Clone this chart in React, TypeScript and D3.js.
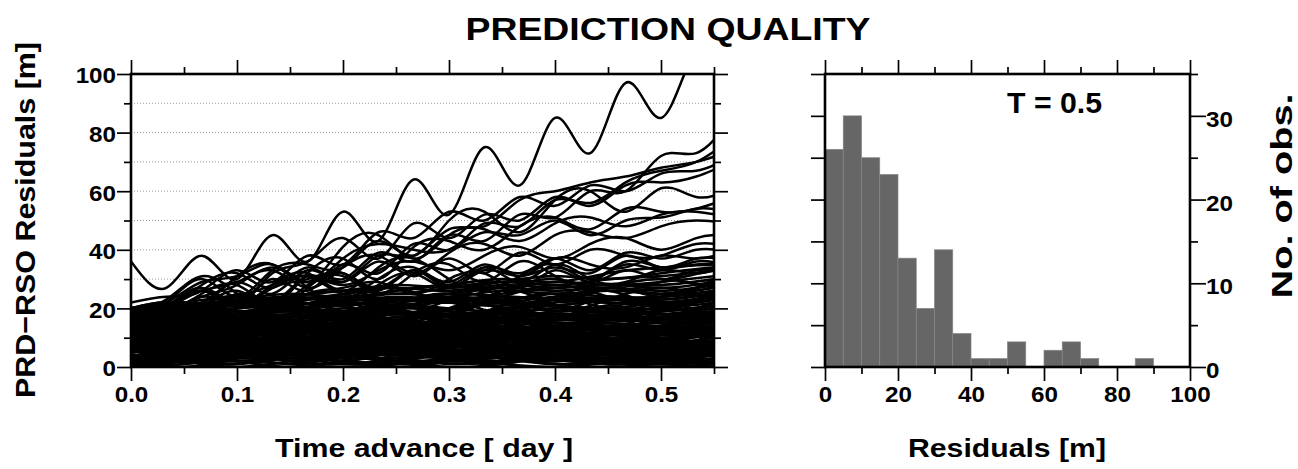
import React, { useEffect, useRef } from 'react';
import * as d3 from 'd3';

// time grids (days)
const fineDays = [0, 0.0333, 0.0667, 0.1, 0.1333, 0.1667, 0.2, 0.2333, 0.2667, 0.3, 0.3333, 0.3667, 0.4, 0.4333, 0.4667, 0.5, 0.5333, 0.5667];
const coarseDays = [0, 0.05, 0.1, 0.15, 0.2, 0.25, 0.3, 0.35, 0.4, 0.45, 0.5, 0.55];

// residual curves that stand out above the dense band (sampled on fineDays)
const upperResiduals: number[][] = [
  [36, 27, 38, 30, 45, 36, 53, 43, 64, 52, 75, 62, 85, 73, 97, 85, 108, 98],
  [20, 22, 22, 29, 25, 33, 30, 39, 36, 45, 43, 52, 51, 60, 60, 72, 73, 85],
  [18, 20, 26, 22, 30, 26, 35, 32, 42, 40, 49, 48, 57, 56, 63, 67, 70, 78],
  [15, 19, 17, 25, 22, 31, 29, 38, 38, 47, 48, 57, 60, 63, 65, 68, 70, 74],
  [22, 24, 26, 33, 29, 38, 35, 46, 44, 53, 50, 58, 55, 62, 60, 66, 67, 72],
  [17, 20, 27, 21, 32, 36, 44, 37, 49, 44, 52, 50, 58, 55, 62, 63, 65, 70],
  [20, 22, 22, 31, 35, 29, 41, 45, 38, 50, 53, 46, 57, 60, 53, 61, 58, 61],
  [14, 18, 25, 28, 22, 32, 37, 30, 41, 43, 40, 48, 51, 47, 54, 53, 54, 58],
  [19, 22, 30, 24, 33, 35, 34, 43, 37, 45, 47, 43, 49, 51, 48, 52, 53, 51],
  [20, 22, 29, 31, 35, 29, 37, 42, 40, 40, 46, 45, 50, 45, 50, 51, 54, 53],
  [16, 20, 26, 29, 33, 27, 34, 38, 32, 39, 42, 38, 45, 46, 44, 48, 50, 49],
  [12, 17, 24, 22, 27, 31, 28, 33, 36, 33, 38, 41, 37, 42, 44, 40, 44, 45],
  [18, 21, 28, 32, 27, 34, 29, 36, 31, 37, 32, 39, 35, 40, 38, 38, 42, 41],
  [20, 23, 31, 25, 19, 27, 32, 26, 33, 27, 34, 32, 37, 33, 39, 37, 40, 39],
  [10, 15, 20, 24, 28, 31, 25, 30, 34, 29, 35, 31, 37, 35, 34, 38, 37, 40],
  [16, 19, 24, 28, 34, 27, 22, 28, 32, 27, 33, 31, 34, 32, 38, 34, 37, 36],
  [20, 21, 27, 22, 28, 32, 26, 34, 37, 30, 26, 31, 35, 30, 36, 34, 35, 35],
  [13, 18, 21, 26, 21, 28, 31, 25, 32, 35, 29, 36, 31, 29, 35, 33, 36, 34],
  [19, 20, 26, 21, 27, 30, 32, 27, 33, 28, 34, 29, 35, 30, 29, 33, 32, 35],
  [11, 16, 21, 24, 19, 25, 27, 29, 25, 30, 32, 27, 33, 29, 33, 30, 33, 32],
];

// dense band of residual curves (sampled on coarseDays)
const denseResiduals: number[][] = [
  [2, 4, 3, 5, 4, 2, 3, 5, 3, 2, 1, 3],
  [8, 6, 4, 3, 5, 6, 4, 2, 3, 4, 2, 1],
  [14, 12, 9, 7, 5, 6, 8, 7, 5, 4, 3, 5],
  [5, 7, 9, 8, 6, 7, 9, 8, 6, 5, 4, 6],
  [1, 2, 1, 3, 2, 1, 2, 3, 1, 2, 1, 2],
  [11, 9, 10, 8, 6, 4, 5, 3, 4, 3, 2, 4],
  [17, 15, 13, 10, 11, 9, 7, 6, 5, 4, 3, 2],
  [4, 3, 5, 7, 8, 6, 5, 6, 7, 5, 4, 6],
  [0, 1, 2, 1, 0, 1, 2, 1, 0, 1, 0, 1],
  [7, 5, 3, 4, 6, 5, 3, 2, 3, 2, 1, 2],
  [19, 16, 14, 11, 9, 8, 6, 5, 4, 3, 2, 3],
  [3, 5, 6, 4, 3, 5, 6, 4, 5, 4, 3, 4],
  [12, 13, 11, 9, 10, 8, 7, 8, 6, 5, 4, 5],
  [6, 4, 2, 3, 1, 2, 4, 3, 2, 3, 2, 1],
  [9, 8, 6, 7, 5, 4, 3, 4, 5, 4, 3, 4],
  [1, 3, 2, 0, 2, 3, 1, 2, 3, 2, 1, 0],
  [15, 13, 11, 12, 10, 9, 8, 6, 5, 5, 4, 6],
  [10, 11, 8, 6, 4, 5, 3, 2, 4, 3, 3, 2],
  [3, 4, 6, 5, 7, 6, 5, 7, 6, 5, 5, 7],
  [16, 14, 12, 13, 11, 9, 10, 8, 7, 6, 6, 8],
  [9, 10, 8, 9, 7, 8, 9, 7, 8, 7, 7, 9],
  [2, 3, 5, 4, 6, 8, 7, 9, 8, 9, 8, 10],
  [13, 14, 12, 10, 11, 12, 10, 9, 11, 10, 9, 11],
  [6, 5, 7, 6, 4, 5, 7, 6, 5, 6, 6, 5],
  [18, 17, 15, 13, 14, 12, 11, 9, 10, 8, 7, 9],
  [0, 2, 3, 5, 4, 6, 5, 7, 6, 8, 8, 7],
  [11, 12, 10, 8, 9, 11, 10, 8, 9, 10, 9, 8],
  [5, 7, 6, 8, 6, 5, 7, 5, 4, 6, 5, 7],
  [14, 13, 11, 12, 10, 9, 8, 9, 7, 8, 6, 8],
  [8, 7, 9, 7, 8, 10, 8, 7, 9, 8, 7, 9],
  [20, 18, 16, 14, 12, 13, 11, 10, 9, 9, 8, 10],
  [4, 6, 8, 7, 9, 8, 10, 9, 11, 10, 9, 11],
  [12, 10, 8, 9, 7, 6, 8, 6, 5, 7, 6, 8],
  [7, 9, 11, 10, 8, 9, 7, 8, 6, 7, 7, 6],
  [17, 15, 16, 14, 12, 10, 11, 9, 10, 9, 8, 7],
  [1, 2, 4, 3, 5, 4, 6, 5, 7, 6, 9, 8],
  [10, 8, 6, 7, 5, 7, 6, 4, 5, 6, 5, 6],
  [15, 16, 14, 15, 13, 11, 12, 10, 9, 8, 7, 9],
  [5, 7, 9, 8, 10, 9, 11, 10, 12, 11, 10, 12],
  [18, 17, 15, 16, 14, 13, 14, 12, 13, 12, 11, 13],
  [9, 11, 10, 12, 11, 13, 12, 11, 13, 12, 12, 14],
  [13, 12, 14, 12, 13, 15, 14, 12, 14, 13, 13, 15],
  [2, 4, 6, 8, 7, 9, 11, 10, 12, 13, 14, 13],
  [16, 15, 13, 14, 12, 13, 11, 12, 10, 11, 11, 12],
  [11, 13, 12, 14, 13, 11, 13, 12, 14, 13, 12, 11],
  [7, 8, 10, 9, 11, 12, 10, 12, 11, 12, 13, 14],
  [19, 18, 17, 15, 16, 14, 15, 13, 14, 15, 14, 16],
  [4, 5, 7, 6, 8, 10, 9, 11, 10, 11, 10, 12],
  [14, 15, 13, 12, 14, 12, 11, 13, 12, 10, 11, 13],
  [12, 14, 13, 15, 14, 13, 15, 14, 12, 13, 12, 14],
  [8, 10, 12, 11, 13, 12, 14, 13, 12, 14, 13, 15],
  [17, 16, 14, 15, 13, 15, 14, 16, 15, 14, 14, 16],
  [6, 8, 7, 9, 11, 10, 12, 11, 13, 12, 12, 13],
  [15, 14, 16, 15, 13, 14, 12, 14, 13, 14, 13, 15],
  [3, 5, 7, 9, 8, 10, 9, 11, 10, 12, 11, 12],
  [10, 12, 11, 13, 12, 14, 13, 15, 14, 13, 14, 16],
  [6, 8, 10, 12, 11, 13, 15, 14, 16, 15, 15, 17],
  [14, 15, 14, 16, 15, 17, 16, 15, 17, 16, 16, 18],
  [19, 20, 18, 19, 17, 18, 19, 17, 18, 17, 17, 19],
  [10, 12, 14, 13, 15, 14, 16, 18, 17, 18, 18, 19],
  [17, 18, 19, 17, 18, 20, 19, 18, 20, 19, 19, 21],
  [2, 5, 8, 10, 9, 12, 13, 15, 14, 16, 16, 17],
  [12, 14, 13, 15, 17, 16, 15, 17, 16, 17, 17, 18],
  [20, 19, 17, 18, 16, 17, 18, 16, 17, 18, 18, 17],
  [8, 10, 12, 14, 13, 15, 14, 16, 18, 17, 19, 20],
  [16, 17, 15, 17, 18, 16, 18, 17, 19, 18, 15, 17],
  [13, 15, 17, 16, 14, 16, 18, 17, 16, 17, 16, 18],
  [5, 7, 9, 11, 13, 12, 14, 16, 15, 16, 17, 18],
  [18, 19, 21, 20, 19, 21, 20, 19, 20, 19, 18, 20],
  [11, 13, 15, 17, 16, 18, 17, 19, 18, 19, 19, 21],
  [15, 17, 16, 18, 20, 19, 18, 17, 18, 17, 17, 19],
  [9, 11, 13, 12, 14, 16, 15, 17, 16, 17, 16, 17],
  [14, 16, 18, 17, 19, 21, 20, 22, 21, 20, 20, 22],
  [19, 21, 20, 22, 21, 23, 22, 21, 23, 22, 21, 23],
  [10, 13, 15, 17, 19, 18, 20, 22, 21, 23, 22, 24],
  [17, 19, 21, 20, 22, 21, 23, 22, 24, 23, 23, 25],
  [20, 21, 22, 21, 23, 22, 24, 23, 25, 24, 24, 26],
  [12, 15, 17, 19, 18, 20, 22, 21, 23, 22, 21, 23],
  [18, 20, 19, 21, 22, 21, 20, 22, 21, 23, 22, 24],
  [16, 18, 20, 22, 21, 23, 22, 24, 23, 24, 23, 25],
  [7, 10, 13, 15, 17, 19, 18, 20, 22, 23, 24, 25],
  [20, 22, 21, 23, 24, 23, 25, 24, 23, 22, 22, 24],
  [18, 20, 22, 24, 23, 25, 24, 26, 25, 26, 25, 27],
  [15, 18, 20, 22, 24, 23, 25, 27, 26, 27, 26, 28],
  [20, 22, 24, 23, 25, 27, 26, 28, 27, 28, 27, 29],
  [12, 15, 18, 20, 22, 24, 23, 25, 27, 28, 28, 30],
  [19, 21, 23, 25, 24, 26, 28, 27, 29, 28, 29, 31],
  [17, 20, 22, 24, 26, 25, 27, 29, 28, 30, 31, 33],
  [20, 22, 21, 24, 26, 28, 27, 29, 31, 30, 32, 34],
  [16, 19, 22, 24, 23, 26, 28, 30, 29, 32, 34, 35],
  [3, 7, 2, 6, 9, 4, 8, 3, 7, 10, 5, 9],
  [9, 4, 8, 12, 6, 11, 7, 13, 8, 12, 9, 14],
  [15, 10, 14, 9, 13, 8, 12, 16, 11, 15, 10, 14],
  [6, 11, 5, 10, 14, 9, 13, 7, 12, 6, 11, 16],
  [12, 17, 11, 16, 10, 15, 19, 13, 18, 14, 19, 23],
  [18, 13, 17, 12, 16, 20, 15, 19, 14, 18, 22, 17],
  [1, 5, 9, 4, 8, 3, 7, 11, 6, 10, 4, 8],
  [20, 16, 19, 15, 18, 22, 17, 21, 25, 20, 24, 28],
  [8, 13, 7, 12, 16, 11, 15, 10, 14, 9, 13, 18],
  [4, 0, 4, 8, 3, 7, 2, 6, 10, 5, 9, 13],
  [13, 9, 12, 16, 11, 14, 18, 12, 16, 20, 15, 19],
  [17, 21, 16, 20, 15, 19, 23, 18, 22, 26, 21, 25],
  [10, 6, 10, 5, 9, 13, 8, 12, 7, 11, 16, 12],
  [2, 6, 10, 14, 9, 13, 17, 12, 16, 20, 15, 19],
  [16, 12, 8, 12, 7, 11, 6, 10, 14, 9, 13, 8],
  [7, 3, 7, 11, 15, 10, 14, 18, 13, 17, 21, 16],
  [19, 15, 11, 15, 19, 14, 18, 22, 17, 21, 18, 22],
  [11, 15, 19, 14, 18, 22, 18, 23, 19, 24, 20, 26],
  [5, 9, 4, 8, 12, 7, 11, 15, 10, 14, 9, 13],
  [14, 18, 13, 17, 21, 16, 20, 24, 19, 23, 27, 23],
  [0, 3, 6, 2, 5, 9, 4, 8, 12, 7, 3, 6],
  [9, 13, 17, 21, 17, 21, 25, 20, 24, 28, 24, 30],
  [18, 14, 10, 6, 10, 14, 9, 13, 8, 12, 7, 11],
  [3, 8, 13, 9, 14, 19, 15, 20, 16, 21, 17, 22],
  [12, 8, 4, 8, 12, 16, 12, 17, 21, 16, 20, 24],
  [20, 17, 14, 18, 22, 18, 23, 27, 23, 27, 30, 27],
  [6, 2, 5, 9, 5, 2, 6, 10, 5, 1, 4, 8],
  [15, 19, 23, 19, 23, 27, 22, 26, 30, 26, 29, 33],
  [10, 14, 18, 22, 19, 16, 20, 24, 28, 24, 21, 25],
  [17, 13, 16, 20, 24, 20, 16, 19, 23, 27, 25, 29],
  [0, 2, 4, 2, 1, 3, 5, 3, 1, 2, 4, 2],
  [4, 2, 0, 2, 4, 2, 0, 1, 3, 1, 2, 4],
  [2, 0, 3, 6, 3, 0, 2, 4, 2, 5, 3, 1],
  [6, 3, 1, 4, 2, 5, 3, 1, 4, 1, 3, 2],
  [3, 6, 4, 1, 4, 7, 4, 2, 5, 3, 6, 4],
  [1, 4, 7, 5, 2, 1, 3, 6, 3, 1, 2, 5],
];

// histogram at T = 0.5 day
const binStarts = [0, 5, 10, 15, 20, 25, 30, 35, 40, 45, 50, 55, 60, 65, 70, 75, 80, 85, 90, 95];
const binCounts = [26, 30, 25, 23, 13, 7, 14, 4, 1, 1, 3, 0, 2, 3, 1, 0, 0, 1, 0, 0];
const binWidth = 5;

// ticks
const gridValues = [10, 20, 30, 40, 50, 60, 70, 80, 90];
const resMajor = [0, 20, 40, 60, 80, 100];
const resMinor = [10, 30, 50, 70, 90];
const dayMajor = [0, 0.1, 0.2, 0.3, 0.4, 0.5];
const dayMinor = [0.05, 0.15, 0.25, 0.35, 0.45, 0.55];
const histXMajor = [0, 20, 40, 60, 80, 100];
const histXMinor = [10, 30, 50, 70, 90];
const countMajor = [0, 10, 20, 30];
const countMinor = [5, 15, 25, 35];
const countAll = [0, 5, 10, 15, 20, 25, 30, 35];

const W = 1298;
const H = 469;
const FONT = '"Liberation Sans", Arial, Helvetica, sans-serif';
const STRETCH = 1.1;

const App: React.FC = () => {
  const svgRef = useRef<SVGSVGElement>(null);

  useEffect(() => {
    drawChart();
  }, []);

  const drawChart = () => {
    const svg = d3.select(svgRef.current!);
    svg.selectAll('*').remove();

    const L = { x0: 131, x1: 714, y0: 74, y1: 367 };
    const R = { x0: 825, x1: 1190, y0: 74, y1: 367 };

    const x = d3.scaleLinear().domain([0, 0.55]).range([L.x0, L.x1]);
    const y = d3.scaleLinear().domain([0, 100]).range([L.y1, L.y0]);
    const xh = d3.scaleLinear().domain([0, 100]).range([R.x0, R.x1]);
    const yh = d3.scaleLinear().domain([0, 35]).range([R.y1, R.y0]);

    svg.append('defs')
      .append('clipPath')
      .attr('id', 'plotClip')
      .append('rect')
      .attr('x', L.x0)
      .attr('y', L.y0)
      .attr('width', L.x1 - L.x0)
      .attr('height', L.y1 - L.y0);

    // dotted grid
    svg.append('g')
      .selectAll('line')
      .data(gridValues)
      .join('line')
      .attr('x1', L.x0)
      .attr('x2', L.x1)
      .attr('y1', (d) => y(d))
      .attr('y2', (d) => y(d))
      .attr('stroke', '#9a9a9a')
      .attr('stroke-width', 1)
      .attr('stroke-dasharray', '1 2');

    const lineFine = d3.line<number>()
      .x((_, i) => x(fineDays[i]))
      .y((d) => y(d))
      .curve(d3.curveNatural);
    const lineCoarse = d3.line<number>()
      .x((_, i) => x(coarseDays[i]))
      .y((d) => y(d))
      .curve(d3.curveNatural);

    const curves = svg.append('g').attr('clip-path', 'url(#plotClip)');
    curves.selectAll('path.dense')
      .data(denseResiduals)
      .join('path')
      .attr('class', 'dense')
      .attr('d', (d) => lineCoarse(d))
      .attr('fill', 'none')
      .attr('stroke', '#000')
      .attr('stroke-width', 2.6);
    curves.selectAll('path.upper')
      .data(upperResiduals)
      .join('path')
      .attr('class', 'upper')
      .attr('d', (d) => lineFine(d))
      .attr('fill', 'none')
      .attr('stroke', '#000')
      .attr('stroke-width', 2.5);

    // histogram bars
    svg.append('g')
      .selectAll('rect')
      .data(binCounts.map((c, i) => ({ start: binStarts[i], count: c })).filter((d) => d.count > 0))
      .join('rect')
      .attr('x', (d) => xh(d.start))
      .attr('width', (d) => xh(d.start + binWidth) - xh(d.start))
      .attr('y', (d) => yh(d.count))
      .attr('height', (d) => yh(0) - yh(d.count))
      .attr('fill', '#666666')
      .attr('stroke', '#858585')
      .attr('stroke-width', 0.7);

    const style = (g: d3.Selection<SVGGElement, unknown, null, undefined>) => {
      g.select('.domain').remove();
      g.selectAll('line').attr('stroke', '#000').attr('stroke-width', 1.7);
      g.selectAll('text')
        .attr('font-family', FONT)
        .attr('font-size', 22)
        .attr('font-weight', 'bold')
        .attr('fill', '#000');
    };
    const noLabel = () => '';

    // left panel axes
    svg.append('g').attr('transform', `translate(${L.x0},0)`)
      .call(d3.axisLeft(y).tickValues(resMinor).tickSize(7).tickFormat(noLabel)).call(style);
    const yl = svg.append('g').attr('transform', `translate(${L.x0},0)`)
      .call(d3.axisLeft(y).tickValues(resMajor).tickSize(14).tickFormat(d3.format('d'))).call(style);
    yl.selectAll('text').attr('x', -15 / STRETCH).attr('dy', '0.4em').attr('transform', `scale(${STRETCH},1)`);
    svg.append('g').attr('transform', `translate(${L.x1},0)`)
      .call(d3.axisRight(y).tickValues(resMinor).tickSize(7).tickFormat(noLabel)).call(style);
    svg.append('g').attr('transform', `translate(${L.x1},0)`)
      .call(d3.axisRight(y).tickValues(resMajor).tickSize(14).tickFormat(noLabel)).call(style);
    svg.append('g').attr('transform', `translate(0,${L.y0})`)
      .call(d3.axisTop(x).tickValues(dayMinor).tickSize(7).tickFormat(noLabel)).call(style);
    svg.append('g').attr('transform', `translate(0,${L.y0})`)
      .call(d3.axisTop(x).tickValues(dayMajor).tickSize(14).tickFormat(noLabel)).call(style);
    svg.append('g').attr('transform', `translate(0,${L.y1})`)
      .call(d3.axisBottom(x).tickValues(dayMinor).tickSize(7).tickFormat(noLabel)).call(style);
    const xl = svg.append('g').attr('transform', `translate(0,${L.y1})`)
      .call(d3.axisBottom(x).tickValues(dayMajor).tickSize(14).tickFormat(d3.format('.1f'))).call(style);
    xl.selectAll('text').attr('y', 19.5).attr('transform', `scale(${STRETCH},1)`);

    // right panel axes
    svg.append('g').attr('transform', `translate(${R.x0},0)`)
      .call(d3.axisLeft(yh).tickValues(countAll).tickSize(14).tickFormat(noLabel)).call(style);
    svg.append('g').attr('transform', `translate(${R.x1},0)`)
      .call(d3.axisRight(yh).tickValues(countMinor).tickSize(8).tickFormat(noLabel)).call(style);
    const yr = svg.append('g').attr('transform', `translate(${R.x1},0)`)
      .call(d3.axisRight(yh).tickValues(countMajor).tickSize(16).tickFormat(d3.format('d'))).call(style);
    yr.selectAll('text').attr('x', 16 / STRETCH).attr('dy', '0.48em').attr('transform', `scale(${STRETCH},1)`);
    svg.append('g').attr('transform', `translate(0,${R.y0})`)
      .call(d3.axisTop(xh).tickValues(histXMinor).tickSize(7).tickFormat(noLabel)).call(style);
    svg.append('g').attr('transform', `translate(0,${R.y0})`)
      .call(d3.axisTop(xh).tickValues(histXMajor).tickSize(14).tickFormat(noLabel)).call(style);
    svg.append('g').attr('transform', `translate(0,${R.y1})`)
      .call(d3.axisBottom(xh).tickValues(histXMinor).tickSize(7).tickFormat(noLabel)).call(style);
    const xr = svg.append('g').attr('transform', `translate(0,${R.y1})`)
      .call(d3.axisBottom(xh).tickValues(histXMajor).tickSize(14).tickFormat(d3.format('d'))).call(style);
    xr.selectAll('text').attr('y', 19.5).attr('transform', `scale(${STRETCH},1)`);

    // frames
    [L, R].forEach((p) => {
      svg.append('rect')
        .attr('x', p.x0)
        .attr('y', p.y0)
        .attr('width', p.x1 - p.x0)
        .attr('height', p.y1 - p.y0)
        .attr('fill', 'none')
        .attr('stroke', '#000')
        .attr('stroke-width', 2.6);
    });

    // texts
    const label = (txt: string, tx: number, ty: number, size: number, len: number, rotate = 0, anchor = 'middle') => {
      svg.append('text')
        .attr('transform', `translate(${tx},${ty}) rotate(${rotate})`)
        .attr('text-anchor', anchor)
        .attr('font-family', FONT)
        .attr('font-weight', 'bold')
        .attr('font-size', size)
        .attr('textLength', len)
        .attr('lengthAdjust', 'spacingAndGlyphs')
        .attr('fill', '#000')
        .text(txt);
    };
    label('PREDICTION QUALITY', 668, 40, 31, 405);
    label('Time advance [ day ]', 424, 457, 26, 298);
    label('Residuals [m]', 1007, 457, 26, 198);
    label('PRD\u2212RSO Residuals [m]', 35, 220, 28, 356, -90);
    label('No. of obs.', 1292, 196, 30, 205, -90);
    label('T = 0.5', 1007, 113, 30, 95, 0, 'start');
  };

  return (
    <svg
      ref={svgRef}
      width={W}
      height={H}
      style={{ position: 'absolute', left: 0, top: 0, background: '#fff' }}
    />
  );
};

export default App;
